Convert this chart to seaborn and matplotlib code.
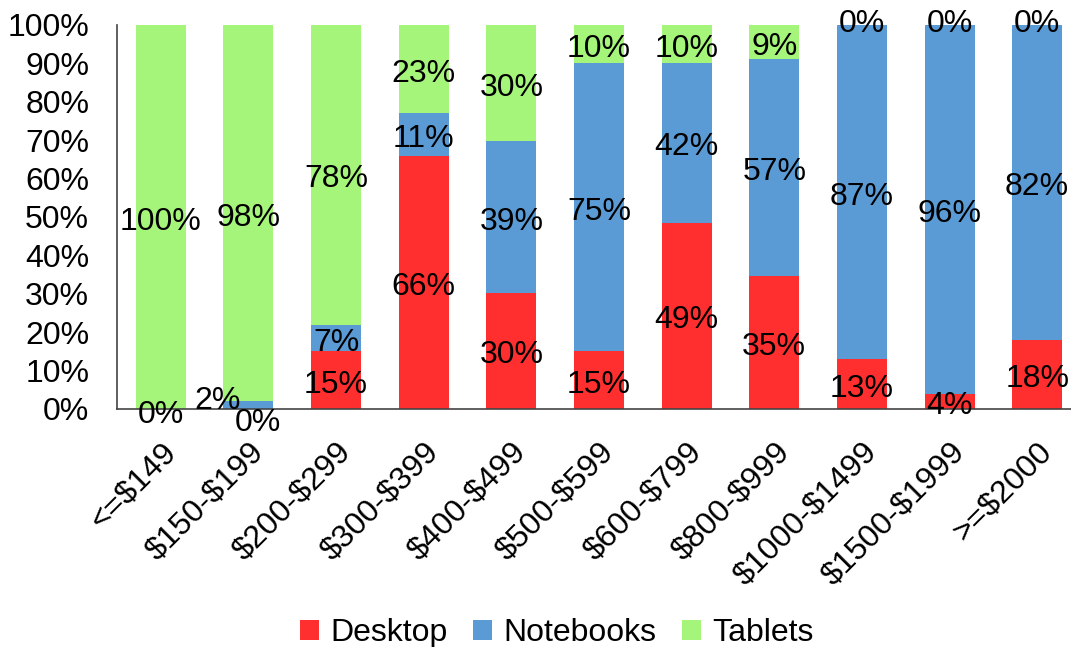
import matplotlib
matplotlib.use("Agg")
import matplotlib.pyplot as plt
import seaborn as sns
import numpy as np
import pandas as pd
from matplotlib.patches import Patch

categories = ["<=$149", "$150-$199", "$200-$299", "$300-$399", "$400-$499",
              "$500-$599", "$600-$799", "$800-$999", "$1000-$1499",
              "$1500-$1999", ">=$2000"]
desktop = [0, 0, 15, 66, 30, 15, 49, 35, 13, 4, 18]
notebooks = [0, 2, 7, 11, 39, 75, 42, 57, 87, 96, 82]
tablets = [100, 98, 78, 23, 30, 10, 10, 9, 0, 0, 0]
series_names = ["Desktop", "Notebooks", "Tablets"]
colors = ["#FF2F2F", "#5B9BD5", "#A6F57B"]

sns.set_theme(style="white")
plt.rcParams["font.family"] = ["Liberation Sans", "DejaVu Sans"]
plt.rcParams["text.color"] = "black"
plt.rcParams["xtick.color"] = "black"
plt.rcParams["ytick.color"] = "black"
plt.rcParams["text.parse_math"] = False

FS = 23

d = np.array(desktop, float)
n = np.array(notebooks, float)
t = np.array(tablets, float)
tot = d + n + t
c1 = d / tot * 100
c2 = (d + n) / tot * 100
c3 = (d + n + t) / tot * 100

df = pd.DataFrame({"cat": categories, "c1": c1, "c2": c2, "c3": c3})

fig = plt.figure(figsize=(10.71, 6.47), dpi=100)
ax = fig.add_axes([117 / 1071, 1 - 409 / 647, (1081 - 117) / 1071, (409 - 25) / 647])

for col, colr in zip(["c3", "c2", "c1"], colors[::-1]):
    sns.barplot(data=df, x="cat", y=col, color=colr, width=0.57, ax=ax,
                saturation=1, linewidth=0)

ax.set_xlim(-0.5, len(categories) - 0.5)
ax.set_ylim(0, 100)
ax.set_yticks(np.arange(0, 101, 10))
ax.set_yticklabels([f"{v}%" for v in range(0, 101, 10)], fontsize=FS)
ax.tick_params(axis="y", length=0, pad=20)
ax.tick_params(axis="x", length=0, pad=20)
ax.set_xticks(range(len(categories)))
ax.set_xticklabels(categories, rotation=45, ha="right", rotation_mode="anchor",
                   fontsize=FS)
ax.set_xlabel("")
ax.set_ylabel("")
for s in ["top", "right"]:
    ax.spines[s].set_visible(False)
for s in ["left", "bottom"]:
    ax.spines[s].set_color("#444444")
    ax.spines[s].set_linewidth(1.2)

# data labels at segment centers
vals = [d, n, t]
bottoms = [np.zeros_like(c1), c1, c2]
tops = [c1, c2, c3]
for si in range(3):
    for i in range(len(categories)):
        if si == 1 and i == 0:
            continue  # overlaps desktop 0% label
        yc = (bottoms[si][i] + tops[si][i]) / 2
        off = (0, -3.3)
        if i == 1 and si == 0:
            off = (7, -10)
        if i == 1 and si == 1:
            off = (-22, 3)
        if si == 0 and i == 0:
            off = (0, -4)
        if si == 2 and vals[si][i] == 0:
            off = (0, 0.5)
        ax.annotate(f"{int(vals[si][i])}%", (i, yc), xytext=off,
                    textcoords="offset points", ha="center", va="center",
                    fontsize=FS, color="black", annotation_clip=False)

handles = [Patch(facecolor=c, edgecolor="none") for c in colors]
fig.legend(handles, series_names, loc="lower center", ncol=3, frameon=False,
           fontsize=FS, handlelength=0.6, handleheight=0.6, handletextpad=0.35,
           columnspacing=0.8, borderpad=0.2, bbox_to_anchor=(0.52, -0.036))

fig.savefig("out.png", dpi=100)
